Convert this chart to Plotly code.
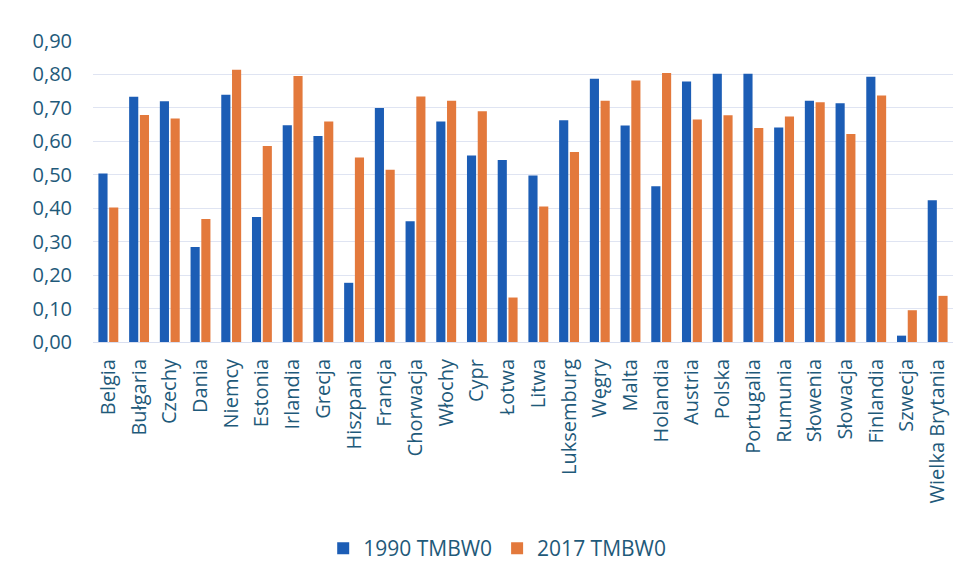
import plotly.graph_objects as go

categories = ["Belgia", "Bułgaria", "Czechy", "Dania", "Niemcy", "Estonia", "Irlandia",
              "Grecja", "Hiszpania", "Francja", "Chorwacja", "Włochy", "Cypr", "Łotwa",
              "Litwa", "Luksemburg", "Węgry", "Malta", "Holandia", "Austria", "Polska",
              "Portugalia", "Rumunia", "Słowenia", "Słowacja", "Finlandia", "Szwecja",
              "Wielka Brytania"]
values_1990 = [0.504, 0.733, 0.720, 0.284, 0.739, 0.374, 0.648, 0.616, 0.177, 0.700,
               0.361, 0.659, 0.558, 0.544, 0.498, 0.663, 0.787, 0.647, 0.466, 0.779,
               0.802, 0.802, 0.641, 0.721, 0.714, 0.793, 0.019, 0.424]
values_2017 = [0.402, 0.679, 0.668, 0.368, 0.814, 0.586, 0.795, 0.659, 0.552, 0.515,
               0.734, 0.721, 0.690, 0.133, 0.405, 0.568, 0.721, 0.782, 0.804, 0.665,
               0.678, 0.640, 0.674, 0.717, 0.622, 0.737, 0.095, 0.138]
series_names = ["1990 TMBW0", "2017 TMBW0"]
y_ticks = [0.0, 0.1, 0.2, 0.3, 0.4, 0.5, 0.6, 0.7, 0.8, 0.9]

text_color = "#1F5A7A"
font_family = "Open Sans, Noto Sans, sans-serif"

fig = go.Figure()
fig.add_trace(go.Bar(x=categories, y=values_1990, name=series_names[0],
                     marker=dict(color="#1C5DB5", line=dict(width=0))))
fig.add_trace(go.Bar(x=categories, y=values_2017, name=series_names[1],
                     marker=dict(color="#E3793C", line=dict(width=0))))

fig.update_layout(
    width=972, height=584,
    margin=dict(l=85, r=27, t=33, b=250),
    paper_bgcolor="white", plot_bgcolor="white",
    separators=", ",
    barmode="group", bargap=0.3, bargroupgap=0.15,
    font=dict(family=font_family, color=text_color),
    showlegend=True,
    legend=dict(orientation="h", x=0.47, xanchor="center", y=-0.686, yanchor="middle",
                font=dict(size=21, color=text_color), itemwidth=30, traceorder="normal"),
    xaxis=dict(tickangle=-90, tickfont=dict(size=20, color=text_color),
               showgrid=False, showline=True, linecolor="#d9dff0", linewidth=1,
               ticks="", ticklabelstandoff=8, automargin=False),
    yaxis=dict(range=[0, 0.9], tickvals=y_ticks, tickformat=".2f",
               tickfont=dict(size=20, color=text_color),
               showgrid=True, gridcolor="#dfe4f2", gridwidth=1,
               zeroline=False, showline=False, ticks="", ticklabelstandoff=20,
               automargin=False),
)

fig.write_html("out.html")
